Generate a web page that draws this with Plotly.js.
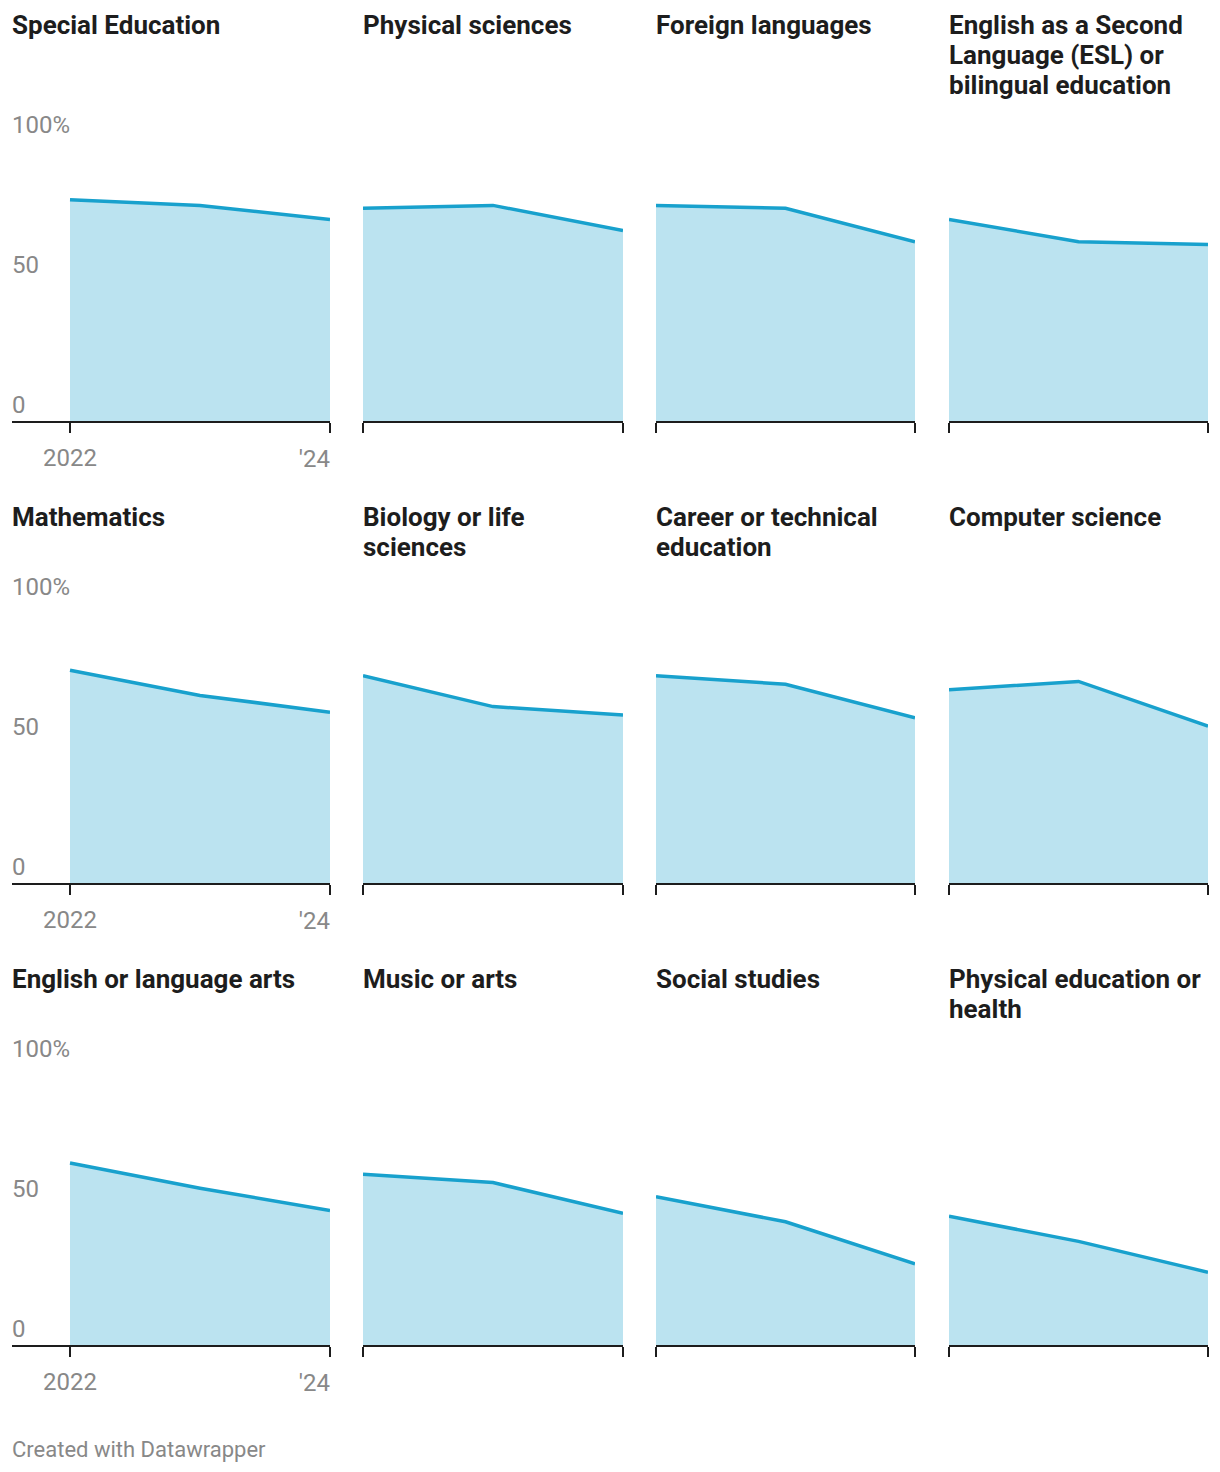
<!DOCTYPE html>
<html>
<head>
<meta charset="utf-8">
<script src="https://cdn.plot.ly/plotly-3.0.1.min.js"></script>
<style>
  html, body { margin: 0; padding: 0; background: #ffffff; }
  #chart { width: 1220px; height: 1472px; }
</style>
</head>
<body>
<div id="chart"></div>
<script>
// ---------- DATA ----------
const years = [2022, 2023, 2024];
const xTickVals = [2022, 2024];
const xTickText = ['2022', "'24"];
const yTickVals = [0, 50, 100];
const yTickText = ['0', '50', '100%'];

const titles = [
  ['Special Education'],
  ['Physical sciences'],
  ['Foreign languages'],
  ['English as a Second', 'Language (ESL) or', 'bilingual education'],
  ['Mathematics'],
  ['Biology or life', 'sciences'],
  ['Career or technical', 'education'],
  ['Computer science'],
  ['English or language arts'],
  ['Music or arts'],
  ['Social studies'],
  ['Physical education or', 'health']
];

const specialEducation   = [79, 77, 72];
const physicalSciences   = [76, 77, 68];
const foreignLanguages   = [77, 76, 64];
const esl                = [72, 64, 63];
const mathematics        = [76, 67, 61];
const biology            = [74, 63, 60];
const careerTechnical    = [74, 71, 59];
const computerScience    = [69, 72, 56];
const englishArts        = [65, 56, 48];
const musicArts          = [61, 58, 47];
const socialStudies      = [53, 44, 29];
const physicalEducation  = [46, 37, 26];

const seriesValues = [
  specialEducation, physicalSciences, foreignLanguages, esl,
  mathematics, biology, careerTechnical, computerScience,
  englishArts, musicArts, socialStudies, physicalEducation
];

const creditText = 'Created with Datawrapper';

// ---------- LAYOUT ----------
const W = 1220, H = 1472;
const FONT = 'Roboto, "Open Sans", Arial, sans-serif';
const LINE_COLOR = '#18a1cd';
const FILL_COLOR = '#bbe3f0';
const AXIS_COLOR = '#1d1d1d';
const LABEL_COLOR = '#888888';

const colAxisStart = [12, 363, 656, 949];
const colDataStart = [70, 363, 656, 949];
const colEnd       = [330, 623, 915, 1208];
const rowBase      = [421, 883, 1345];
const plotH        = 280;
const titleCenter  = [25, 517, 979];
const titleLineGap = 30;

const px = v => v / W;
const py = v => 1 - v / H;

const traces = [];
const layout = {
  width: W, height: H,
  margin: {l: 0, r: 0, t: 0, b: 0},
  paper_bgcolor: '#ffffff',
  plot_bgcolor: 'rgba(0,0,0,0)',
  showlegend: false,
  font: {family: FONT, color: AXIS_COLOR},
  annotations: []
};

for (let i = 0; i < seriesValues.length; i++) {
  const r = Math.floor(i / 4), c = i % 4;
  const n = i + 1;
  const xName = n === 1 ? 'xaxis' : 'xaxis' + n;
  const yName = n === 1 ? 'yaxis' : 'yaxis' + n;
  const xRef = n === 1 ? 'x' : 'x' + n;
  const yRef = n === 1 ? 'y' : 'y' + n;

  const span = colEnd[c] - colDataStart[c];
  const extra = (colDataStart[c] - colAxisStart[c]) / span * (years[2] - years[0]);
  const xRange = [years[0] - extra, years[2]];
  const xDomain = [px(colAxisStart[c]), px(colEnd[c])];
  const yDomain = [py(rowBase[r]), py(rowBase[r] - plotH)];

  layout[xName] = {
    domain: xDomain, range: xRange, anchor: yRef,
    showgrid: false, zeroline: false,
    showline: true, linecolor: AXIS_COLOR, linewidth: 2,
    ticks: 'outside', ticklen: 10, tickwidth: 2, tickcolor: AXIS_COLOR,
    tickmode: 'array', tickvals: xTickVals,
    ticktext: c === 0 ? [xTickText[0], ''] : ['', ''],
    showticklabels: c === 0,
    ticklabelstandoff: 4,
    tickfont: {family: FONT, size: 24, color: LABEL_COLOR},
    fixedrange: true
  };
  layout[yName] = {
    domain: yDomain, range: [0, 100], anchor: xRef,
    showgrid: false, zeroline: false, showline: false,
    ticks: '', tickmode: 'array', tickvals: yTickVals, ticktext: yTickText,
    showticklabels: c === 0,
    ticklabelposition: 'inside top',
    ticklabeloverflow: 'allow',
    ticklabelstandoff: -3,
    tickfont: {family: FONT, size: 24, color: LABEL_COLOR},
    fixedrange: true
  };

  traces.push({
    type: 'scatter', mode: 'lines',
    x: years, y: seriesValues[i],
    xaxis: xRef, yaxis: yRef,
    fill: 'tozeroy', fillcolor: FILL_COLOR,
    line: {color: LINE_COLOR, width: 3.5},
    hoverinfo: 'skip', cliponaxis: false
  });

  titles[i].forEach((line, k) => {
    layout.annotations.push({
      xref: 'paper', yref: 'paper',
      x: px(colAxisStart[c] - 2), y: py(titleCenter[r] + k * titleLineGap),
      xanchor: 'left', yanchor: 'middle', align: 'left',
      showarrow: false,
      text: '<b>' + line + '</b>',
      font: {family: FONT, size: 26, color: AXIS_COLOR}
    });
  });

  // right-aligned "'24" label for first column
  if (c === 0) {
    const m = 13 + r;
    const oxName = 'xaxis' + m;
    const oxRef = 'x' + m;
    layout[oxName] = {
      domain: xDomain, range: xRange, anchor: yRef, overlaying: xRef,
      showgrid: false, zeroline: false, showline: false,
      ticks: 'outside', ticklen: 10, tickwidth: 0, tickcolor: 'rgba(0,0,0,0)',
      tickmode: 'array', tickvals: [xTickVals[1]], ticktext: [xTickText[1]],
      ticklabelposition: 'outside left',
      ticklabelstandoff: 16,
      tickfont: {family: FONT, size: 24, color: LABEL_COLOR},
      fixedrange: true
    };
    traces.push({
      type: 'scatter', mode: 'lines',
      x: years, y: [null, null, null],
      xaxis: oxRef, yaxis: yRef,
      hoverinfo: 'skip', showlegend: false
    });
  }
}

layout.annotations.push({
  xref: 'paper', yref: 'paper',
  x: px(10), y: py(1449),
  xanchor: 'left', yanchor: 'middle', showarrow: false,
  text: creditText,
  font: {family: FONT, size: 22, color: LABEL_COLOR}
});

Plotly.newPlot('chart', traces, layout, {displayModeBar: false, staticPlot: true});
</script>
</body>
</html>
